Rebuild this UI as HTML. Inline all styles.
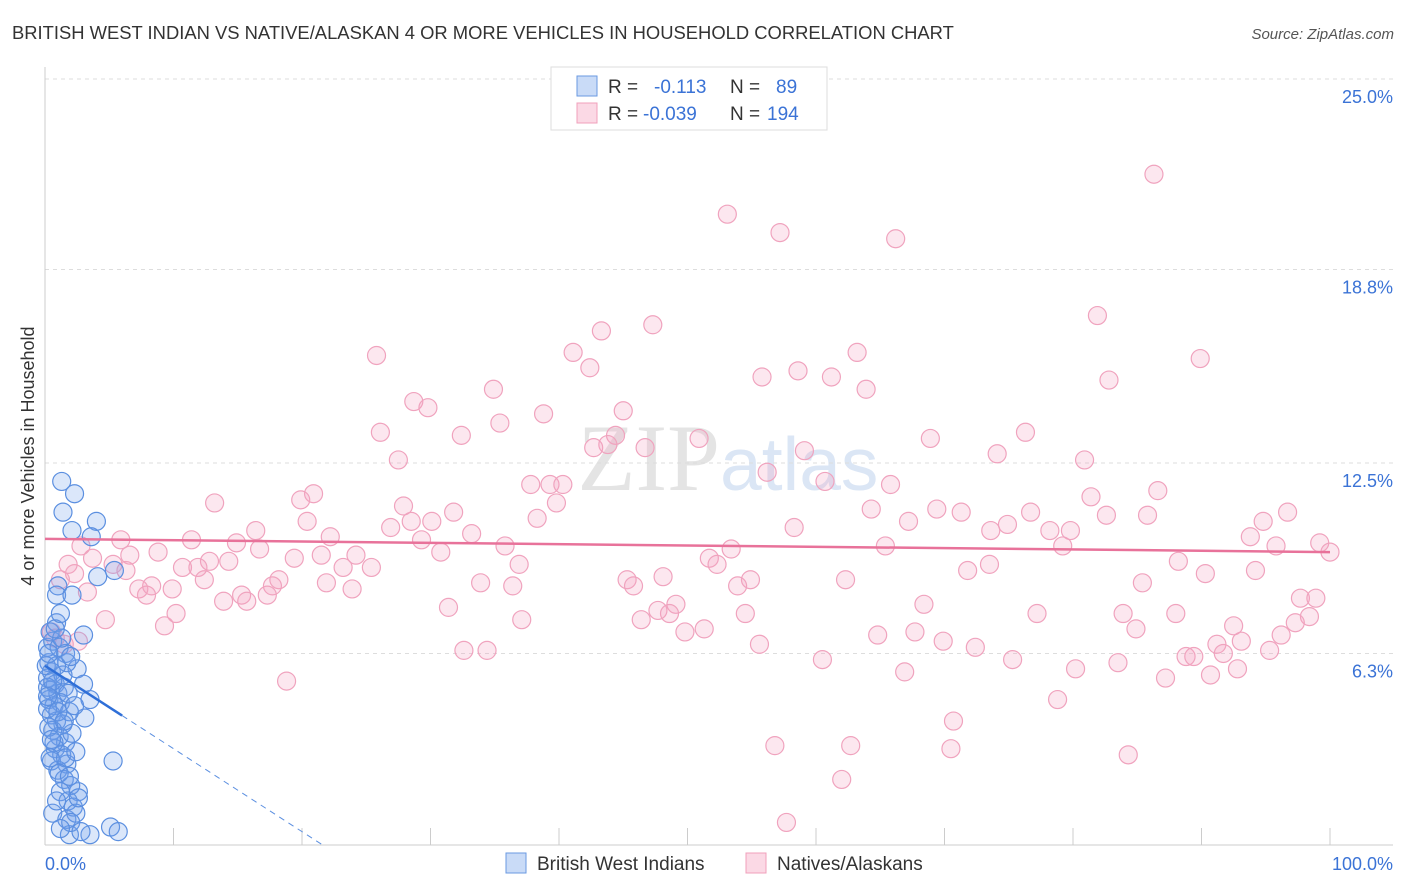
<!DOCTYPE html>
<html><head><meta charset="utf-8"><style>
body{margin:0;background:#fff;font-family:"Liberation Sans",sans-serif}
svg{display:block}
</style></head><body>
<svg id="chart" width="1406" height="892" viewBox="0 0 1406 892" font-family="Liberation Sans, sans-serif">
<text x="12" y="39" font-size="18.4" fill="#333">BRITISH WEST INDIAN VS NATIVE/ALASKAN 4 OR MORE VEHICLES IN HOUSEHOLD CORRELATION CHART</text>
<text x="1394" y="39" font-size="15" fill="#555" font-style="italic" text-anchor="end">Source: ZipAtlas.com</text>
<text x="720" y="490" font-size="95" fill="#e4e4e4" text-anchor="end" font-family="Liberation Serif, serif">ZIP</text>
<text x="720" y="490" font-size="75" fill="#dbe6f5">atlas</text>
<g id="grid"></g>
<g id="axes"></g>
<g id="pts"></g>
<g id="trend"></g>
<text transform="translate(34,456) rotate(-90)" font-size="18" fill="#333" text-anchor="middle">4 or more Vehicles in Household</text>
<text x="45" y="870" font-size="18" fill="#3b73d6">0.0%</text>
<text x="1393" y="870" font-size="18" fill="#3b73d6" text-anchor="end">100.0%</text>
<g>
<rect x="551" y="67" width="276" height="63" fill="#fff" stroke="#ddd"/>
<rect x="577" y="76" width="20" height="20" fill="rgba(120,165,235,0.4)" stroke="#6a9ae2"/>
<rect x="577" y="103" width="20" height="20" fill="rgba(245,160,190,0.4)" stroke="#f0a0bb"/>
<text x="608" y="93" font-size="19" fill="#333">R = <tspan fill="#3b73d6" x="654">-0.113</tspan><tspan x="730" fill="#333">N = </tspan><tspan fill="#3b73d6" x="776">89</tspan></text>
<text x="608" y="120" font-size="19" fill="#333">R = <tspan fill="#3b73d6" x="643">-0.039</tspan><tspan x="730" fill="#333">N = </tspan><tspan fill="#3b73d6" x="767">194</tspan></text>
</g>
<g>
<rect x="506" y="853" width="20" height="20" fill="rgba(120,165,235,0.4)" stroke="#6a9ae2"/>
<text x="537" y="870" font-size="19" fill="#333">British West Indians</text>
<rect x="746" y="853" width="20" height="20" fill="rgba(245,160,190,0.4)" stroke="#f0a0bb"/>
<text x="777" y="870" font-size="19" fill="#333">Natives/Alaskans</text>
</g>
</svg>
<script>
const yTicks=[25.0,18.8,12.5,6.3];
const yTickLabels=["25.0%","18.8%","12.5%","6.3%"];
const xTicks=[0,10,20,30,40,50,60,70,80,90,100];
const pinkX=[53.1,57.2,66.2,86.3,81.9,89.9,43.3,47.3,41.1,25.8,42.4,63.2,58.6,55.8,61.2,63.9,82.8,34.9,28.7,29.8,38.8,45.0,26.1,35.4,32.4,44.4,43.8,42.7,46.7,50.9,59.1,68.9,76.3,27.5,56.2,74.1,80.9,37.8,39.3,40.3,39.8,60.7,65.8,86.6,20.9,19.9,13.2,27.9,31.8,69.4,71.3,76.7,81.4,96.7,64.3,20.4,28.5,30.1,26.9,33.2,38.3,67.2,74.9,73.6,78.2,79.8,82.6,85.8,94.8,93.8,58.3,16.4,22.2,11.4,14.9,5.9,2.8,29.3,35.8,65.4,79.2,95.8,99.2,100,8.8,6.6,16.7,24.2,30.8,19.4,21.5,51.7,53.4,12.8,14.3,3.7,1.8,5.3,2.3,6.3,10.7,11.9,23.2,25.4,36.9,52.3,73.5,88.2,71.8,94.2,90.3,1.2,12.4,18.2,21.9,33.9,45.3,48.1,54.9,62.3,85.4,17.7,8.3,45.8,53.9,7.3,9.9,23.9,36.4,3.3,7.9,15.3,17.3,97.7,98.9,13.9,15.7,31.4,68.4,49.1,47.7,10.2,54.5,77.2,83.9,88.0,98.4,46.4,48.6,4.7,9.3,37.1,51.3,97.3,92.5,67.7,84.9,49.8,64.8,96.2,93.1,91.2,69.9,55.6,72.4,32.6,34.4,91.7,95.3,88.8,89.4,75.3,60.5,83.5,92.8,80.2,66.9,90.7,87.2,18.8,78.8,70.7,56.8,62.7,70.5,84.3,62.0,57.7,0.8,1.5,2.6,0.5];
const pinkY=[20.6,20.0,19.8,21.9,17.3,15.9,16.8,17.0,16.1,16.0,15.6,16.1,15.5,15.3,15.3,14.9,15.2,14.9,14.5,14.3,14.1,14.2,13.5,13.8,13.4,13.4,13.1,13.0,13.0,13.3,12.9,13.3,13.5,12.6,12.2,12.8,12.6,11.8,11.8,11.8,11.2,11.9,11.8,11.6,11.5,11.3,11.2,11.1,10.9,11.0,10.9,10.9,11.4,10.9,11.0,10.6,10.6,10.6,10.4,10.2,10.7,10.6,10.5,10.3,10.3,10.3,10.8,10.8,10.6,10.1,10.4,10.3,10.1,10.0,9.9,10.0,9.8,10.0,9.8,9.8,9.8,9.8,9.9,9.6,9.6,9.5,9.7,9.5,9.6,9.4,9.5,9.4,9.7,9.3,9.3,9.4,9.2,9.2,8.9,9.0,9.1,9.1,9.1,9.1,9.2,9.2,9.2,9.3,9.0,9.0,8.9,8.7,8.7,8.7,8.6,8.6,8.7,8.8,8.7,8.7,8.6,8.5,8.5,8.5,8.5,8.4,8.4,8.4,8.5,8.3,8.2,8.2,8.2,8.1,8.1,8.0,8.0,7.8,7.9,7.9,7.7,7.6,7.6,7.6,7.6,7.6,7.5,7.4,7.6,7.4,7.2,7.4,7.1,7.3,7.2,7.0,7.1,7.0,6.9,6.9,6.7,6.6,6.7,6.6,6.5,6.4,6.4,6.3,6.4,6.2,6.2,6.1,6.1,6.0,5.8,5.8,5.7,5.6,5.5,5.4,4.8,4.1,3.3,3.3,3.2,3.0,2.2,0.8,6.8,6.6,6.7,7.0];
const blueX=[1.3,2.3,1.4,4.0,2.1,3.6,5.4,4.1,1.0,0.9,2.1,3.0,0.9,2.5,3.0,3.5,3.1,5.3,0.6,1.7,2.6,1.9,3.5,5.1,5.7,0.3,0.5,0.2,0.8,0.4,1.0,1.5,0.3,0.7,1.2,0.5,0.9,1.4,0.6,1.1,1.6,0.8,1.3,0.5,1.7,1.0,1.5,2.0,1.2,1.8,2.2,2.4,0.9,2.0,0.2,0.6,1.1,1.6,0.4,1.3,0.1,0.2,0.3,0.7,1.9,2.1,1.4,1.7,0.9,0.2,0.6,1.8,2.3,1.0,0.4,1.6,2.6,1.2,2.8,0.3,0.8,1.2,2.0,1.5,0.5,1.1,1.9,2.4,0.2];
const blueY=[11.9,11.5,10.9,10.6,10.3,10.1,9.0,8.8,8.5,8.2,8.2,6.9,7.3,5.8,5.3,4.8,4.2,2.8,1.1,0.9,1.8,0.4,0.4,0.65,0.5,6.0,5.7,5.5,5.3,5.1,5.0,5.2,4.8,4.6,4.7,4.3,4.1,4.0,3.8,3.6,3.4,3.2,3.0,2.8,2.7,2.5,2.2,2.0,1.8,1.5,1.3,1.1,1.5,0.8,6.5,6.7,6.5,6.3,7.0,6.8,5.9,4.5,3.9,3.4,4.4,3.7,5.6,6.0,5.9,5.2,5.4,5.0,4.6,4.4,2.9,2.9,1.6,0.6,0.5,6.3,7.1,7.6,6.2,4.1,3.5,2.4,2.3,3.1,4.9];
const pinkTrend=[10.03,9.6];
const blueTrend=[5.9,-0.27];
const NS='http://www.w3.org/2000/svg';
const X0=45,X1=1330,YB=847,PXPER=30.72;
function sx(v){return X0+(X1-X0)*v/100;}
function sy(v){return YB-v*PXPER;}
function mk(tag,attrs,parent){const e=document.createElementNS(NS,tag);for(const k in attrs)e.setAttribute(k,attrs[k]);parent.appendChild(e);return e;}
const grid=document.getElementById('grid');
yTicks.forEach((t,i)=>{
 const l=mk('line',{x1:45,x2:1393,y1:sy(t),y2:sy(t),stroke:'#ddd','stroke-dasharray':'4,4'},grid);
 
 
 const tx=mk('text',{x:1393,y:sy(t)+24,'font-size':18,fill:'#3b73d6','text-anchor':'end'},grid);
 tx.textContent=yTickLabels[i];
 
 
});
const axes=document.getElementById('axes');
const ya=mk('line',{x1:45,x2:45,y1:67,y2:845,stroke:'#ccc'},axes);


const xa=mk('line',{x1:45,x2:1393,y1:845,y2:845,stroke:'#ccc'},axes);


xTicks.forEach(t=>{
 const l=mk('line',{x1:sx(t),x2:sx(t),y1:828,y2:845,stroke:'#ccc'},axes);
 
 
});
const pts=document.getElementById('pts');
pinkX.forEach((x,i)=>{
 const c=mk('circle',{cx:sx(x),cy:sy(pinkY[i]),r:9,fill:'rgba(245,160,190,0.25)',stroke:'#f0a3be','stroke-width':1.2},pts);
 
 
});
blueX.forEach((x,i)=>{
 const c=mk('circle',{cx:sx(x),cy:sy(blueY[i]),r:9,fill:'rgba(110,160,235,0.25)',stroke:'#5b8fe0','stroke-width':1.2},pts);
 
 
});
const tr=document.getElementById('trend');
const pl=mk('line',{x1:sx(0),y1:sy(pinkTrend[0]),x2:sx(100),y2:sy(pinkTrend[1]),stroke:'#e8729a','stroke-width':2.5},tr);


const bEnd=6,bDash=21.6;
const bl=mk('line',{x1:sx(0),y1:sy(blueTrend[0]),x2:sx(bEnd),y2:sy(blueTrend[0]+blueTrend[1]*bEnd),stroke:'#2f6fd8','stroke-width':2.5},tr);


const bd=mk('line',{x1:sx(bEnd),y1:sy(blueTrend[0]+blueTrend[1]*bEnd),x2:sx(bDash),y2:sy(blueTrend[0]+blueTrend[1]*bDash),stroke:'#5b8fe0','stroke-width':1,'stroke-dasharray':'6,5'},tr);


</script>
</body></html>
